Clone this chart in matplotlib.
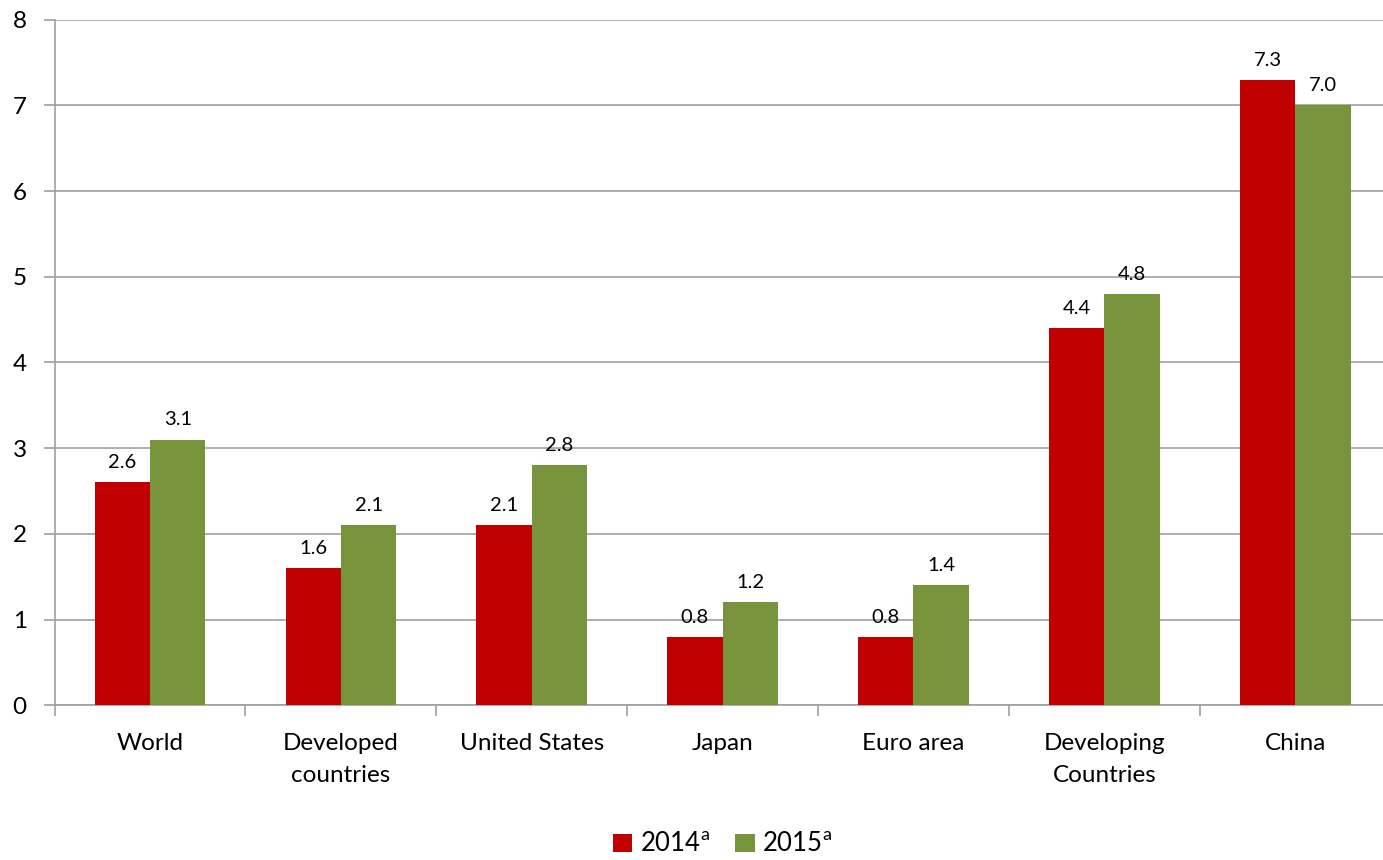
import numpy as np
import matplotlib.pyplot as plt

plt.rcParams['font.family'] = ['Lato', 'DejaVu Sans']

categories = ['World', 'Developed\ncountries', 'United States', 'Japan',
              'Euro area', 'Developing\nCountries', 'China']
growth_2014 = [2.6, 1.6, 2.1, 0.8, 0.8, 4.4, 7.3]
growth_2015 = [3.1, 2.1, 2.8, 1.2, 1.4, 4.8, 7.0]
labels_2014 = ['2.6', '1.6', '2.1', '0.8', '0.8', '4.4', '7.3']
labels_2015 = ['3.1', '2.1', '2.8', '1.2', '1.4', '4.8', '7.0']

red = '#C00000'
green = '#77933C'
grid_col = '#A0A0A0'

fig = plt.figure(figsize=(13.83, 8.6), dpi=100)
ax = fig.add_axes([0.0395, 0.180, 0.966, 0.797])

x = np.arange(len(categories))
w = 0.29
b1 = ax.bar(x - w / 2, growth_2014, w, color=red, label='2014$^{\\mathregular{a}}$', zorder=3)
b2 = ax.bar(x + w / 2, growth_2015, w, color=green, label='2015$^{\\mathregular{a}}$', zorder=3)

# value labels above bars
for bars, texts in [(b1, labels_2014), (b2, labels_2015)]:
    for rect, txt in zip(bars, texts):
        ax.annotate(txt, (rect.get_x() + rect.get_width() / 2, rect.get_height()),
                    xytext=(0, 8), textcoords='offset points', ha='center', va='bottom',
                    fontsize=14.5)

ax.set_xlim(-0.5, len(categories) - 0.5)
ax.set_ylim(0, 8)
ax.set_yticks(np.arange(0, 9, 1))
ax.yaxis.grid(True, color=grid_col, linewidth=1.2, zorder=0)

ax.set_xticks(x)
ax.set_xticklabels(categories, fontsize=17.5, linespacing=1.65)
ax.set_xticks(np.arange(-0.5, len(categories), 1), minor=True)
ax.tick_params(axis='x', which='major', length=0, pad=20)
ax.tick_params(axis='x', which='minor', length=8, color=grid_col, width=1.2)
ax.tick_params(axis='y', length=8, color=grid_col, width=1.2, labelsize=17.5, pad=12)

for s in ['top', 'right']:
    ax.spines[s].set_visible(False)
for s in ['left', 'bottom']:
    ax.spines[s].set_color(grid_col)
    ax.spines[s].set_linewidth(1.2)

ax.legend(loc='upper center', bbox_to_anchor=(0.5, -0.17), ncol=2, frameon=False,
          fontsize=18.5, handlelength=0.75, handleheight=0.75, handletextpad=0.3,
          columnspacing=1.0, borderaxespad=0)

fig.savefig('out.png', dpi=100)
